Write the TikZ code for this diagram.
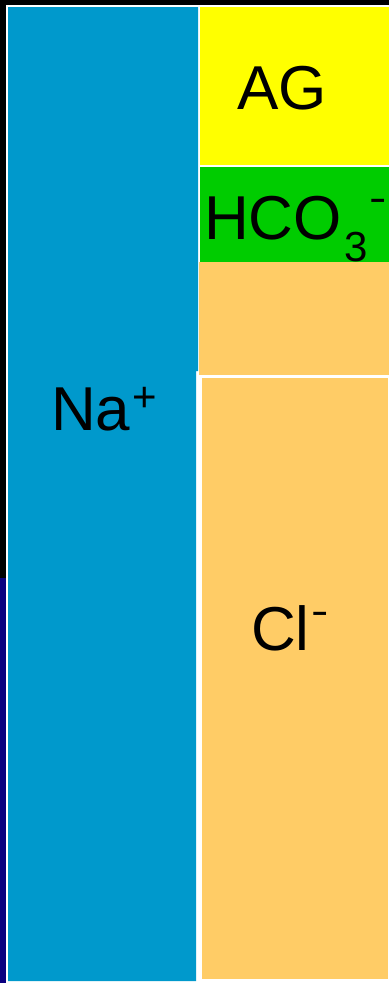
\documentclass[tikz,border=0pt]{standalone}
\usepackage{fontspec}
\setmainfont{Liberation Sans}
\definecolor{nablue}{HTML}{0099CC}
\definecolor{agyellow}{HTML}{FFFF00}
\definecolor{bicgreen}{HTML}{00CC00}
\definecolor{clorange}{HTML}{FFCC66}
\definecolor{navy}{HTML}{0A0080}
\tikzset{
  ionlabel/.style={anchor=base west, inner sep=0pt, text=black, font=\fontsize{62}{62}\selectfont},
  block/.style={draw=none}
}
\newcommand{\smallion}[2]{\raisebox{#1}{\fontsize{42}{42}\selectfont #2}}
\newcommand{\ionminus}[1]{\raisebox{#1}{\fontsize{40}{40}\selectfont\scalebox{1.3}[1]{-}}}
\begin{document}
\begin{tikzpicture}[x=1pt,y=-1pt]
\useasboundingbox (0,0) rectangle (389,983);
\fill[black] (0,0) rectangle (389,983);
\fill[navy] (0,578) rectangle (6,983);
\fill[white] (6,5) rectangle (389,983);
% Na+ column
\fill[nablue] (8,7) -- (198,7) -- (198,371) -- (196,371) -- (196,981) -- (8,981) -- cycle;
% right column
\fill[agyellow] (200,7) rectangle (389,165);
\fill[bicgreen] (200,167) rectangle (389,262);
\fill[clorange] (199,262) rectangle (389,375);
\fill[clorange] (202,378) rectangle (388,979);
% labels
\node[ionlabel] (ag) at (237,109) {AG};
\node[ionlabel] (bic) at (204,239) {HCO\hspace{3pt}\smallion{-22pt}{3}\hspace{1pt}\ionminus{28pt}};
\node[ionlabel] (na) at (51,430) {Na\hspace{2pt}\smallion{19pt}{+}};
\node[ionlabel] (cl) at (251,650) {Cl\hspace{2pt}\ionminus{26pt}};
\end{tikzpicture}
\end{document}
